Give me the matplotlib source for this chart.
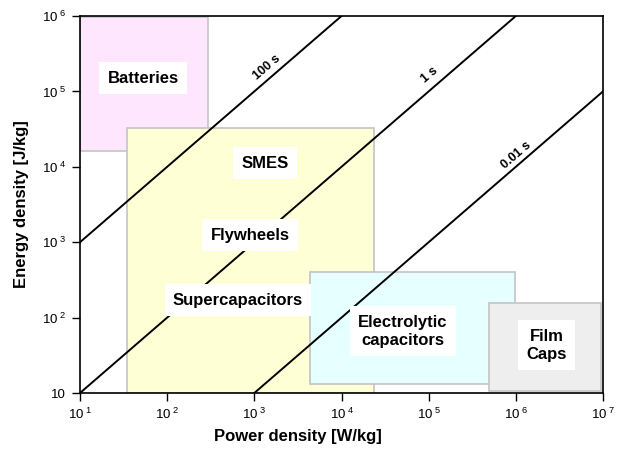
import numpy as np
import matplotlib
matplotlib.use('Agg')
import matplotlib.pyplot as plt
from matplotlib.patches import Rectangle

plt.rcParams['font.family'] = ['Liberation Sans', 'DejaVu Sans']
plt.rcParams['mathtext.fontset'] = 'custom'
plt.rcParams['mathtext.rm'] = 'Liberation Sans'

# technology regions: x0, x1, y0, y1 and colour
reg_x0 = [10, 35, 4.4e3, 4.9e5]
reg_x1 = [295, 2.35e4, 9.8e5, 9.6e6]
reg_y0 = [1.6e4, 10, 13, 10.7]
reg_y1 = [9.6e5, 3.3e4, 400, 155]
reg_colors = ['#ffe6ff', '#ffffd6', '#e6ffff', '#eeeeee']

# labels inside the regions
labels = ['Batteries', 'SMES', 'Flywheels', 'Supercapacitors',
          'Electrolytic\ncapacitors', 'Film\nCaps']
label_x = [53, 1325, 890, 650, 5.06e4, 2.27e6]
label_y = [1.5e5, 1.12e4, 1245, 171, 66, 43]

# time constant lines E = P * t
t_const = [100, 1, 0.01]
t_labels = ['100 s', '1 s', '0.01 s']
t_label_p = [1650, 1.26e5, 1.18e6]
t_label_off = [7.0, 8.2, 6.0]

xticks = [1e1, 1e2, 1e3, 1e4, 1e5, 1e6, 1e7]
xtick_labels = [r'$\mathregular{10\,^{%d}}$' % i for i in range(1, 8)]
yticks = [1e1, 1e2, 1e3, 1e4, 1e5, 1e6]
ytick_labels = ['10'] + [r'$\mathregular{10\,^{%d}}$' % i for i in range(2, 7)]

fig = plt.figure(figsize=(6.22, 4.5), dpi=100)
ax = fig.add_axes([80/622, 1 - 393/450, 523/622, 377/450])
ax.set_xscale('log')
ax.set_yscale('log')
ax.set_xlim(1e1, 1e7)
ax.set_ylim(1e1, 1e6)

for x0, x1, y0, y1, c in zip(reg_x0, reg_x1, reg_y0, reg_y1, reg_colors):
    ax.add_patch(Rectangle((x0, y0), x1 - x0, y1 - y0, facecolor=c,
                           edgecolor='#c4c4c4', linewidth=1.2, zorder=1))

ang = 40.8
p = np.array([1e1, 1e7])
for t, lab, lp, off in zip(t_const, t_labels, t_label_p, t_label_off):
    ax.plot(p, p * t, color='black', linewidth=1.4, zorder=2)
    dx = -off * np.sin(np.radians(ang))
    dy = off * np.cos(np.radians(ang))
    ax.annotate(lab, xy=(lp, lp * t), xytext=(dx, dy), textcoords='offset points',
                rotation=ang, rotation_mode='anchor', ha='center', va='center',
                fontsize=9, fontweight='bold', zorder=4)

for lab, x, y in zip(labels, label_x, label_y):
    ax.text(x, y, lab, ha='center', va='center', fontsize=12, fontweight='bold',
            linespacing=1.25, zorder=3,
            bbox=dict(facecolor='white', edgecolor='none', pad=6))

ax.set_xticks(xticks)
ax.set_xticklabels(xtick_labels)
ax.set_yticks(yticks)
ax.set_yticklabels(ytick_labels)
ax.minorticks_off()
ax.tick_params(direction='out', length=6, width=1, labelsize=9.5, pad=4)
for s in ax.spines.values():
    s.set_linewidth(1.2)

ax.set_xlabel('Power density [W/kg]', fontsize=12, fontweight='bold')
ax.xaxis.set_label_coords((298 - 80) / 523, -0.095)
ax.set_ylabel('Energy density [J/kg]', fontsize=12, fontweight='bold')
ax.yaxis.set_label_coords(-0.097, 0.5)

fig.savefig('out.png', dpi=100)
